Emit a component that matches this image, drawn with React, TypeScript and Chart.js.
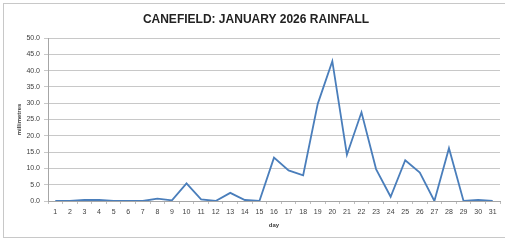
import React, { useEffect, useRef } from "react";
import { Chart, registerables } from "chart.js";

Chart.register(...registerables);

const TITLE = "CANEFIELD: JANUARY 2026 RAINFALL";
const X_TITLE = "day";
const Y_TITLE = "millimetres";
const days = Array.from({ length: 31 }, (_, i) => String(i + 1));
const rainfall = [
  0, 0, 0.3, 0.3, 0, 0, 0, 0.7, 0.2, 5.4, 0.5, 0, 2.5, 0.3, 0, 13.3, 9.4, 7.9,
  29.8, 42.9, 14.2, 27.2, 9.8, 1.3, 12.5, 8.7, 0, 16.2, 0, 0.3, 0,
];
const yMin = 0;
const yMax = 50;
const yStep = 5;

const framePlugin = {
  id: "frame",
  beforeDraw(chart: any) {
    const ctx = chart.ctx;
    ctx.save();
    ctx.fillStyle = "#ffffff";
    ctx.fillRect(0, 0, chart.width, chart.height);
    ctx.strokeStyle = "#c8c8c8";
    ctx.lineWidth = 1;
    ctx.strokeRect(3.5, 3.5, chart.width + 10, 234);
    ctx.restore();
  },
};

export default function App() {
  const ref = useRef<HTMLCanvasElement | null>(null);
  useEffect(() => {
    document.body.style.margin = "0";
    const canvas = ref.current;
    if (!canvas) return;
    const tickFont = { family: "'Liberation Sans', Arial, sans-serif", size: 7 };
    const chart = new Chart(canvas, {
      type: "line",
      data: {
        labels: days,
        datasets: [
          {
            data: rainfall,
            borderColor: "#4a7ebb",
            borderWidth: 1.8,
            pointRadius: 0,
            tension: 0,
            fill: false,
          },
        ],
      },
      options: {
        animation: false,
        responsive: false,
        maintainAspectRatio: false,
        layout: { padding: { left: 12, right: 5, top: 0, bottom: 0 } },
        plugins: {
          legend: { display: false },
          tooltip: { enabled: false },
          title: {
            display: true,
            text: TITLE,
            color: "#222222",
            font: { family: "'Liberation Sans', Arial, sans-serif", size: 12, weight: "bold" },
            padding: { top: 12.8, bottom: 10.8 },
          },
        },
        scales: {
          x: {
            type: "category",
            offset: true,
            grid: {
              display: true,
              drawOnChartArea: false,
              drawTicks: true,
              tickLength: 3,
              color: "#bfbfbf",
              offset: true,
            },
            border: { display: true, color: "#a6a6a6" },
            ticks: {
              color: "#404040",
              font: tickFont,
              padding: 4,
              maxRotation: 0,
              autoSkip: false,
            },
            title: {
              display: true,
              text: X_TITLE,
              color: "#404040",
              font: { family: "'Liberation Sans', Arial, sans-serif", size: 6, weight: "bold" },
              padding: { top: 0, bottom: 14.4 },
            },
            afterFit(scale: any) {
              scale.height = 42;
            },
          },
          y: {
            min: yMin,
            max: yMax,
            grid: {
              color: "#c8c8c8",
              tickLength: 4,
              drawTicks: true,
            },
            border: { display: true, color: "#a6a6a6" },
            ticks: {
              stepSize: yStep,
              color: "#404040",
              font: tickFont,
              padding: 4,
              callback: (v: any) => Number(v).toFixed(1),
            },
            title: {
              display: true,
              text: Y_TITLE,
              color: "#404040",
              font: { family: "'Liberation Sans', Arial, sans-serif", size: 6, weight: "bold" },
              padding: { top: 3.4, bottom: 0 },
            },
            afterFit(scale: any) {
              scale.width = 36;
            },
          },
        },
      },
      plugins: [framePlugin],
    } as any);
    return () => chart.destroy();
  }, []);
  return (
    <div style={{ width: 505, height: 243 }}>
      <canvas ref={ref} width={505} height={243} style={{ display: "block", width: 505, height: 243 }} />
    </div>
  );
}
